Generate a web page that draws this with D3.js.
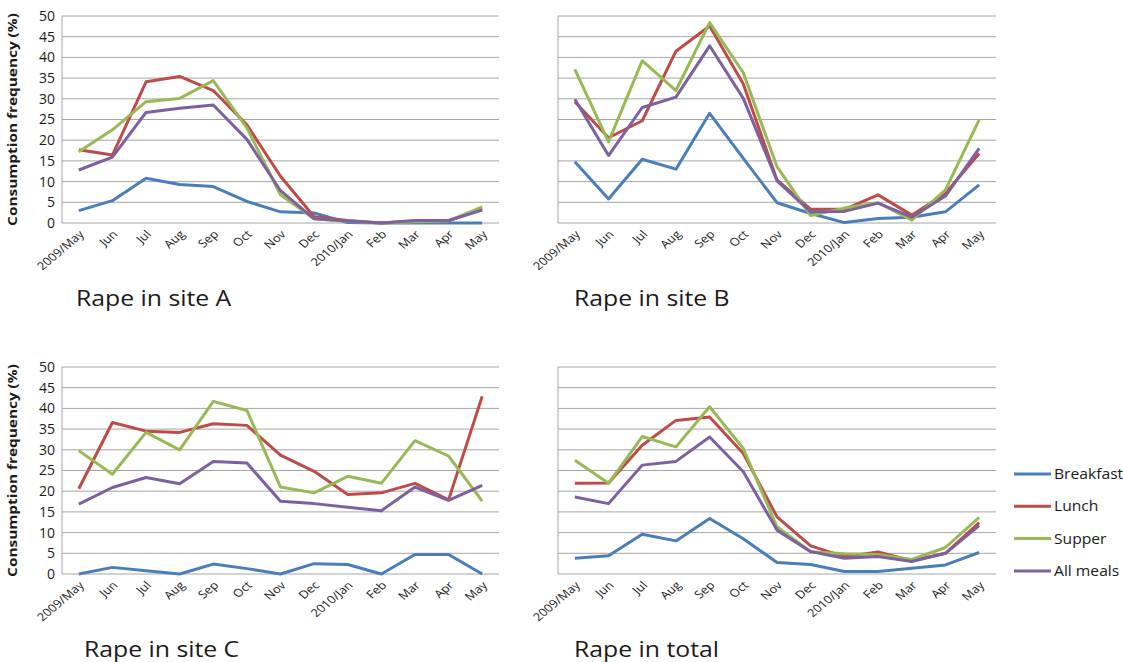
<!DOCTYPE html>
<html>
<head>
<meta charset="utf-8">
<script src="https://cdn.jsdelivr.net/npm/d3@7"></script>
<style>
  body { margin: 0; background: #fff; }
  text { font-family: "Open Sans", "DejaVu Sans", sans-serif; fill: #1a1a1a; }
</style>
</head>
<body>
<div id="chart"></div>
<script>
// months on the category axis
var months = ["2009/May", "Jun", "Jul", "Aug", "Sep", "Oct", "Nov", "Dec",
              "2010/Jan", "Feb", "Mar", "Apr", "May"];
var seriesNames = ["Breakfast", "Lunch", "Supper", "All meals"];
var seriesColors = ["#4a7ebb", "#be4b48", "#98b954", "#7d60a0"];
var yTicks = [0, 5, 10, 15, 20, 25, 30, 35, 40, 45, 50];
var panelTitles = ["Rape in site A", "Rape in site B", "Rape in site C", "Rape in total"];

// site A
var siteA_breakfast = [3.0, 5.4, 10.8, 9.3, 8.8, 5.2, 2.7, 2.4, 0.1, 0, 0, 0, 0];
var siteA_lunch     = [17.7, 16.4, 34.1, 35.4, 32.0, 23.7, 11.3, 1.5, 0.6, 0, 0.5, 0.5, 3.5];
var siteA_supper    = [17.2, 22.5, 29.3, 30.1, 34.4, 23.0, 6.8, 1.0, 0.4, 0, 0.3, 0.5, 3.9];
var siteA_all       = [12.8, 15.9, 26.7, 27.7, 28.5, 20.2, 7.8, 1.0, 0.5, 0, 0.6, 0.6, 3.1];

// site B
var siteB_breakfast = [14.8, 5.8, 15.4, 13.0, 26.5, 15.6, 4.9, 2.3, 0.1, 1.1, 1.4, 2.7, 9.2];
var siteB_lunch     = [29.3, 20.6, 24.7, 41.5, 47.6, 33.6, 10.4, 3.3, 3.3, 6.8, 1.9, 7.2, 16.8];
var siteB_supper    = [37.1, 19.6, 39.2, 32.0, 48.4, 36.3, 13.6, 1.8, 3.6, 4.9, 0.7, 8.0, 24.9];
var siteB_all       = [29.9, 16.3, 27.9, 30.4, 42.8, 30.1, 10.2, 2.7, 2.8, 4.8, 1.4, 6.5, 18.0];

// site C
var siteC_breakfast = [0, 1.6, 0.8, 0, 2.4, 1.3, 0, 2.5, 2.3, 0, 4.7, 4.7, 0];
var siteC_lunch     = [20.6, 36.6, 34.5, 34.2, 36.3, 35.9, 28.7, 24.8, 19.2, 19.6, 21.9, 17.9, 42.9];
var siteC_supper    = [29.8, 24.1, 34.2, 30.0, 41.7, 39.5, 21.0, 19.6, 23.6, 21.9, 32.2, 28.5, 17.6];
var siteC_all       = [16.9, 20.9, 23.3, 21.8, 27.2, 26.8, 17.6, 17.0, 16.1, 15.3, 21.0, 17.8, 21.4];

// total
var total_breakfast = [3.8, 4.4, 9.6, 8.0, 13.4, 8.5, 2.8, 2.3, 0.6, 0.6, 1.4, 2.2, 5.2];
var total_lunch     = [21.9, 22.0, 31.1, 37.1, 37.9, 29.1, 13.8, 6.8, 4.2, 5.3, 3.2, 5.0, 12.4];
var total_supper    = [27.5, 21.9, 33.2, 30.7, 40.4, 30.3, 11.4, 5.4, 4.9, 4.7, 3.5, 6.4, 13.7];
var total_all       = [18.6, 17.0, 26.3, 27.2, 33.1, 24.7, 10.6, 5.4, 3.8, 4.2, 3.0, 5.0, 11.7];

var panelData = [
  [siteA_breakfast, siteA_lunch, siteA_supper, siteA_all],
  [siteB_breakfast, siteB_lunch, siteB_supper, siteB_all],
  [siteC_breakfast, siteC_lunch, siteC_supper, siteC_all],
  [total_breakfast, total_lunch, total_supper, total_all]
];

var W = 1123, H = 662;
var svg = d3.select("#chart").append("svg")
  .attr("width", W).attr("height", H);

// the original picture is a bit stretched sideways, so text gets the same stretch
var stretch = 1.18;

// plot-area boxes for the 2x2 grid
var cols = [{left: 62, right: 499}, {left: 558, right: 996}];
var rows = [{top: 16, bottom: 223}, {top: 367, bottom: 574}];
var titleShift = [14, 16, 22, 16];

panelData.forEach(function(series, p) {
  var c = cols[p % 2], r = rows[Math.floor(p / 2)];
  var w = c.right - c.left, h = r.bottom - r.top;
  var g = svg.append("g").attr("transform", "translate(" + c.left + "," + r.top + ")");

  var x = d3.scaleBand().domain(months).range([0, w]);
  var y = d3.scaleLinear().domain([0, 50]).range([h, 0]);

  // gridlines
  g.selectAll("line.grid").data(yTicks).enter().append("line")
    .attr("class", "grid")
    .attr("x1", 0).attr("x2", w)
    .attr("y1", function(d) { return y(d); })
    .attr("y2", function(d) { return y(d); })
    .attr("stroke", "#a6a6a6").attr("stroke-width", 1);

  // left axis line
  g.append("line").attr("x1", 0).attr("x2", 0).attr("y1", 0).attr("y2", h)
    .attr("stroke", "#a6a6a6").attr("stroke-width", 1);

  // y tick labels only on left column
  if (p % 2 === 0) {
    var yAxis = g.append("g").call(d3.axisLeft(y).tickValues(yTicks).tickSize(0).tickPadding(7));
    yAxis.select(".domain").remove();
    yAxis.selectAll("text").style("font-size", "14px").attr("fill", "#1a1a1a")
      .style("font-family", "'Open Sans', sans-serif");

    g.append("text")
      .attr("transform", "translate(" + (-45) + "," + (h / 2) + ") rotate(-90) scale(" + (stretch + 0.05) + ",1)")
      .attr("text-anchor", "middle")
      .style("font-size", "12.5px").style("font-weight", "bold")
      .text("Consumption frequency (%)");
  }

  // x tick labels, rotated
  var xAxis = g.append("g").attr("transform", "translate(0," + h + ")")
    .call(d3.axisBottom(x).tickSize(0).tickPadding(0));
  xAxis.select(".domain").remove();
  xAxis.selectAll("text")
    .attr("y", 0).attr("dy", 0)
    .attr("text-anchor", "end")
    .attr("transform", "translate(6,12) scale(" + stretch + ",1) rotate(-45)")
    .style("font-size", "11px").attr("fill", "#1a1a1a")
    .style("font-family", "'Open Sans', sans-serif");

  var line = d3.line()
    .x(function(d, i) { return x(months[i]) + x.bandwidth() / 2; })
    .y(function(d) { return y(d); });

  series.forEach(function(vals, s) {
    g.append("path").datum(vals)
      .attr("d", line)
      .attr("fill", "none")
      .attr("stroke", seriesColors[s])
      .attr("stroke-width", 3)
      .attr("stroke-linejoin", "round");
  });

  // panel title
  svg.append("text")
    .attr("transform", "translate(" + (c.left + titleShift[p]) + "," + (r.bottom + 83) + ") scale(" + stretch + ",1)")
    .style("font-size", "21px")
    .text(panelTitles[p]);
});

// legend
var legend = svg.append("g").attr("transform", "translate(1014,474)");
seriesNames.forEach(function(name, i) {
  var ly = i * 32.3;
  legend.append("line").attr("x1", 0).attr("x2", 37).attr("y1", ly).attr("y2", ly)
    .attr("stroke", seriesColors[i]).attr("stroke-width", 3);
  legend.append("text")
    .attr("transform", "translate(40," + ly + ") scale(1.08,1)")
    .attr("dy", "0.35em")
    .style("font-size", "14.5px").text(name);
});
</script>
</body>
</html>
